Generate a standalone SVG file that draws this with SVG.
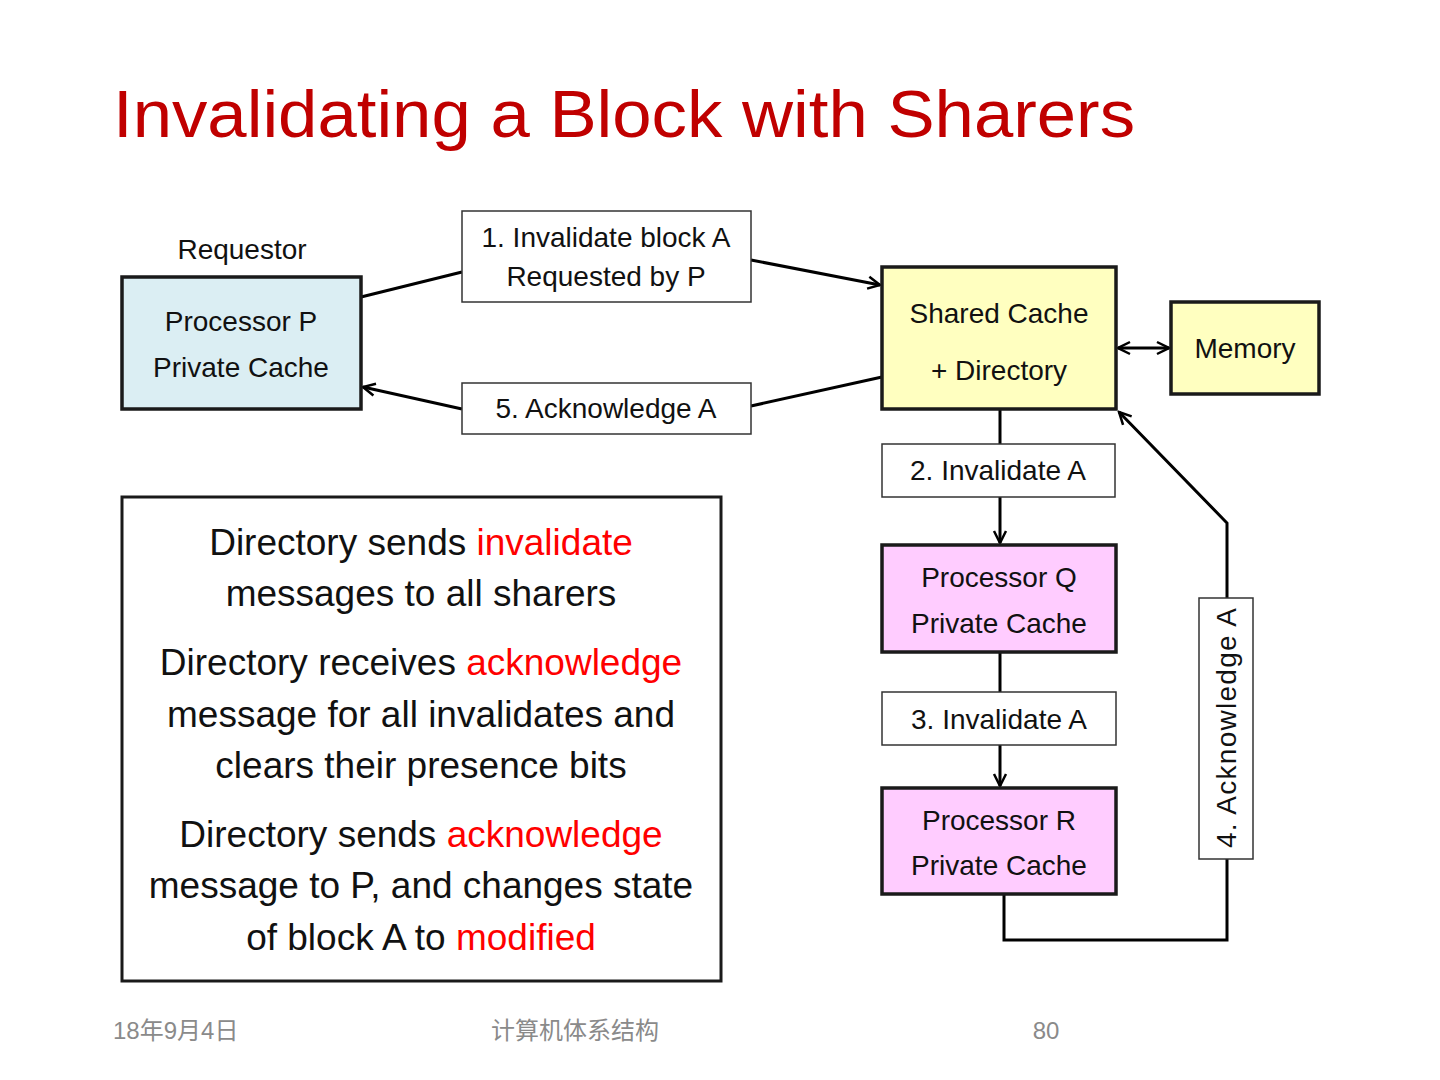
<svg xmlns="http://www.w3.org/2000/svg" width="1440" height="1080" viewBox="0 0 1440 1080">
<defs>
<marker id="arr" viewBox="0 0 16 16" refX="14" refY="8" markerWidth="16" markerHeight="16" markerUnits="userSpaceOnUse" orient="auto-start-reverse">
<path d="M2,2 L14,8 L2,14" fill="none" stroke="#000" stroke-width="2.5"/>
</marker>
<style>
.t{font-family:"Liberation Sans",Arial,sans-serif;fill:#111;text-anchor:middle}
.n{font-size:28px}
.box{stroke:#1a1a1a;stroke-width:3.5}
.lbl{fill:#fff;stroke:#333;stroke-width:1.5}
.c{fill:none;stroke:#000;stroke-width:3}
.b{font-size:37px}
.r{fill:#ff0000}
.f{font-family:"Liberation Sans","Noto Sans CJK SC",sans-serif;fill:#8a8a8a;font-size:24px}
</style>
</defs>
<rect width="1440" height="1080" fill="#fff"/>
<text x="113" y="137" font-family="Liberation Sans,Arial,sans-serif" font-size="66" fill="#c00000" textLength="1022" lengthAdjust="spacingAndGlyphs">Invalidating a Block with Sharers</text>

<g id="connectors">
<line class="c" x1="361" y1="297" x2="462" y2="272"/>
<line class="c" x1="751" y1="260" x2="880" y2="285" marker-end="url(#arr)"/>
<line class="c" x1="882" y1="377" x2="751" y2="406"/>
<line class="c" x1="462" y1="409" x2="363" y2="387" marker-end="url(#arr)"/>
<line class="c" x1="1118" y1="348" x2="1169" y2="348" marker-start="url(#arr)" marker-end="url(#arr)"/>
<line class="c" x1="1000" y1="409" x2="1000" y2="444"/>
<line class="c" x1="1000" y1="497" x2="1000" y2="543" marker-end="url(#arr)"/>
<line class="c" x1="1000" y1="652" x2="1000" y2="692"/>
<line class="c" x1="1000" y1="745" x2="1000" y2="786" marker-end="url(#arr)"/>
<polyline class="c" points="1004,894 1004,940 1227,940 1227,859"/>
<polyline class="c" points="1227,598 1227,523 1119,412" marker-end="url(#arr)"/>
</g>

<g id="requestor-label"><text class="t n" x="242" y="259">Requestor</text></g>

<g id="procP">
<rect class="box" x="122" y="277" width="239" height="132" fill="#dbeef3"/>
<text class="t n" x="241" y="331">Processor P</text>
<text class="t n" x="241" y="377">Private Cache</text>
</g>

<g id="msg1">
<rect class="lbl" x="462" y="211" width="289" height="91"/>
<text class="t n" x="606" y="247">1. Invalidate block A</text>
<text class="t n" x="606" y="286">Requested by P</text>
</g>

<g id="msg5">
<rect class="lbl" x="462" y="383" width="289" height="51"/>
<text class="t n" x="606" y="418">5. Acknowledge A</text>
</g>

<g id="shared">
<rect class="box" x="882" y="267" width="234" height="142" fill="#ffffc0"/>
<text class="t n" x="999" y="323">Shared Cache</text>
<text class="t n" x="999" y="380">+ Directory</text>
</g>

<g id="memory">
<rect class="box" x="1171" y="302" width="148" height="92" fill="#ffffc0"/>
<text class="t n" x="1245" y="358">Memory</text>
</g>

<g id="msg2">
<rect class="lbl" x="882" y="444" width="233" height="53"/>
<text class="t n" x="998" y="480">2. Invalidate A</text>
</g>

<g id="procQ">
<rect class="box" x="882" y="545" width="234" height="107" fill="#ffccff"/>
<text class="t n" x="999" y="587">Processor Q</text>
<text class="t n" x="999" y="633">Private Cache</text>
</g>

<g id="msg3">
<rect class="lbl" x="882" y="692" width="234" height="53"/>
<text class="t n" x="999" y="729">3. Invalidate A</text>
</g>

<g id="procR">
<rect class="box" x="882" y="788" width="234" height="106" fill="#ffccff"/>
<text class="t n" x="999" y="830">Processor R</text>
<text class="t n" x="999" y="875">Private Cache</text>
</g>

<g id="msg4">
<rect class="lbl" x="1199" y="598" width="54" height="261"/>
<text class="t n" x="0" y="0" transform="translate(1236,728) rotate(-90)" textLength="240" lengthAdjust="spacing">4. Acknowledge  A</text>
</g>

<g id="notes">
<rect x="122" y="497" width="599" height="484" fill="#fff" stroke="#1a1a1a" stroke-width="3"/>
<text class="t b" x="421" y="555">Directory sends <tspan class="r">invalidate</tspan></text>
<text class="t b" x="421" y="606">messages to all sharers</text>
<text class="t b" x="421" y="675">Directory receives <tspan class="r">acknowledge</tspan></text>
<text class="t b" x="421" y="727">message for all invalidates and</text>
<text class="t b" x="421" y="778">clears their presence bits</text>
<text class="t b" x="421" y="847">Directory sends <tspan class="r">acknowledge</tspan></text>
<text class="t b" x="421" y="898">message to P, and changes state</text>
<text class="t b" x="421" y="950">of block A to <tspan class="r">modified</tspan></text>
</g>

<g id="footer">
<text class="f" x="113" y="1039">18年9月4日</text>
<text class="f" x="575" y="1039" text-anchor="middle">计算机体系结构</text>
<text class="f" x="1046" y="1039" text-anchor="middle">80</text>
</g>
</svg>
